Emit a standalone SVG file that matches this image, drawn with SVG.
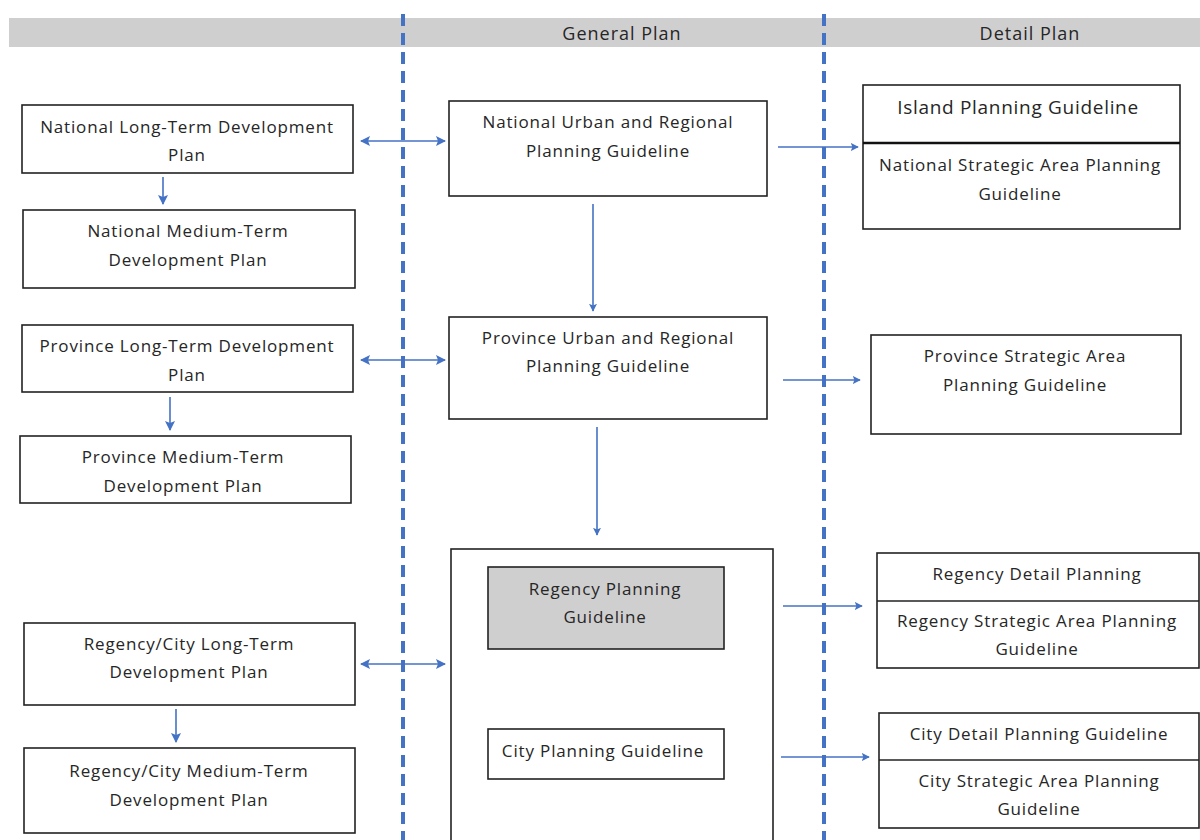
<svg xmlns="http://www.w3.org/2000/svg" width="1200" height="840" viewBox="0 0 1200 840">
<style>
.box{fill:#fff;stroke:#222;stroke-width:1.6}
.t{font-family:"Open Sans","Liberation Sans",sans-serif;font-size:17px;letter-spacing:0.85px;fill:#262626;text-anchor:middle}
.big{font-size:19px;letter-spacing:0.7px}
.hd{font-size:18px;letter-spacing:1px}
.conn{stroke:#4472c4;stroke-width:1.6;fill:none}
.dash{stroke:#4472c4;stroke-width:4;stroke-dasharray:12 7;fill:none}
</style>
<defs>
<marker id="ah" viewBox="0 0 10 10" refX="9" refY="5" markerWidth="8" markerHeight="8" markerUnits="userSpaceOnUse" orient="auto-start-reverse">
<path d="M0,0 L10,5 L0,10 L2,5 z" fill="#4472c4"/>
</marker>
<marker id="ah2" viewBox="0 0 10 10" refX="9" refY="5" markerWidth="10" markerHeight="10" markerUnits="userSpaceOnUse" orient="auto-start-reverse">
<path d="M0,0 L10,5 L0,10 L2,5 z" fill="#4472c4"/>
</marker>
</defs>
<rect width="1200" height="840" fill="#fff"/>
<g id="header">
<rect x="9" y="18" width="1191" height="29" fill="#d0cfd0"/>
<text class="t hd" x="622" y="40">General Plan</text>
<text class="t hd" x="1030" y="40">Detail Plan</text>
</g>
<g id="dividers">
<line class="dash" x1="403" y1="14" x2="403" y2="840"/>
<line class="dash" x1="824" y1="14" x2="824" y2="840"/>
</g>
<g id="n1"><rect class="box" x="22" y="105" width="331" height="68"/>
<text class="t" x="187" y="133">National Long-Term Development</text><text class="t" x="187" y="161">Plan</text></g>
<g id="n2"><rect class="box" x="23" y="210" width="332" height="78"/>
<text class="t" x="188" y="237">National Medium-Term</text><text class="t" x="188" y="266">Development Plan</text></g>
<g id="n3"><rect class="box" x="22" y="325" width="331" height="67"/>
<text class="t" x="187" y="352">Province Long-Term Development</text><text class="t" x="187" y="381">Plan</text></g>
<g id="n4"><rect class="box" x="20" y="436" width="331" height="67"/>
<text class="t" x="183" y="463">Province Medium-Term</text><text class="t" x="183" y="492">Development Plan</text></g>
<g id="n5"><rect class="box" x="24" y="623" width="331" height="82"/>
<text class="t" x="189" y="650">Regency/City Long-Term</text><text class="t" x="189" y="678">Development Plan</text></g>
<g id="n6"><rect class="box" x="24" y="748" width="331" height="85"/>
<text class="t" x="189" y="777">Regency/City Medium-Term</text><text class="t" x="189" y="806">Development Plan</text></g>
<g id="n7"><rect class="box" x="449" y="101" width="318" height="95"/>
<text class="t" x="608" y="128">National Urban and Regional</text><text class="t" x="608" y="157">Planning Guideline</text></g>
<g id="n8"><rect class="box" x="449" y="317" width="318" height="102"/>
<text class="t" x="608" y="344">Province Urban and Regional</text><text class="t" x="608" y="372">Planning Guideline</text></g>
<g id="n9"><rect class="box" x="451" y="549" width="322" height="300"/></g>
<g id="n10"><rect class="box" x="488" y="567" width="236" height="82" style="fill:#d0cfd0"/>
<text class="t" x="605" y="595">Regency Planning</text><text class="t" x="605" y="623">Guideline</text></g>
<g id="n11"><rect class="box" x="488" y="729" width="236" height="50"/>
<text class="t" x="603" y="757">City Planning Guideline</text></g>
<g id="n12"><rect class="box" x="863" y="85" width="317" height="144"/>
<line x1="863" y1="143" x2="1180" y2="143" stroke="#111" stroke-width="2.4"/>
<text class="t big" x="1018" y="114">Island Planning Guideline</text>
<text class="t" x="1020" y="171">National Strategic Area Planning</text><text class="t" x="1020" y="200">Guideline</text></g>
<g id="n13"><rect class="box" x="871" y="335" width="310" height="99"/>
<text class="t" x="1025" y="362">Province Strategic Area</text><text class="t" x="1025" y="391">Planning Guideline</text></g>
<g id="n14"><rect class="box" x="877" y="553" width="322" height="115"/>
<line x1="877" y1="601" x2="1199" y2="601" stroke="#222" stroke-width="1.6"/>
<text class="t" x="1037" y="580">Regency Detail Planning</text>
<text class="t" x="1037" y="627">Regency Strategic Area Planning</text><text class="t" x="1037" y="655">Guideline</text></g>
<g id="n15"><rect class="box" x="879" y="713" width="320" height="115"/>
<line x1="879" y1="760" x2="1199" y2="760" stroke="#222" stroke-width="1.6"/>
<text class="t" x="1039" y="740">City Detail Planning Guideline</text>
<text class="t" x="1039" y="787">City Strategic Area Planning</text><text class="t" x="1039" y="815">Guideline</text></g>
<g id="connectors">
<line class="conn" x1="361" y1="141" x2="445" y2="141" marker-start="url(#ah2)" marker-end="url(#ah2)"/>
<line class="conn" x1="361" y1="360" x2="445" y2="360" marker-start="url(#ah2)" marker-end="url(#ah2)"/>
<line class="conn" x1="361" y1="664" x2="445" y2="664" marker-start="url(#ah2)" marker-end="url(#ah2)"/>
<line class="conn" x1="163" y1="177" x2="163" y2="204" marker-end="url(#ah2)"/>
<line class="conn" x1="170" y1="397" x2="170" y2="430" marker-end="url(#ah2)"/>
<line class="conn" x1="176" y1="709" x2="176" y2="742" marker-end="url(#ah2)"/>
<line class="conn" x1="593" y1="204" x2="593" y2="311" marker-end="url(#ah)"/>
<line class="conn" x1="597" y1="427" x2="597" y2="535" marker-end="url(#ah)"/>
<line class="conn" x1="778" y1="147" x2="858" y2="147" marker-end="url(#ah)"/>
<line class="conn" x1="783" y1="380" x2="860" y2="380" marker-end="url(#ah)"/>
<line class="conn" x1="783" y1="606" x2="862" y2="606" marker-end="url(#ah)"/>
<line class="conn" x1="781" y1="757" x2="869" y2="757" marker-end="url(#ah)"/>
</g>
</svg>
